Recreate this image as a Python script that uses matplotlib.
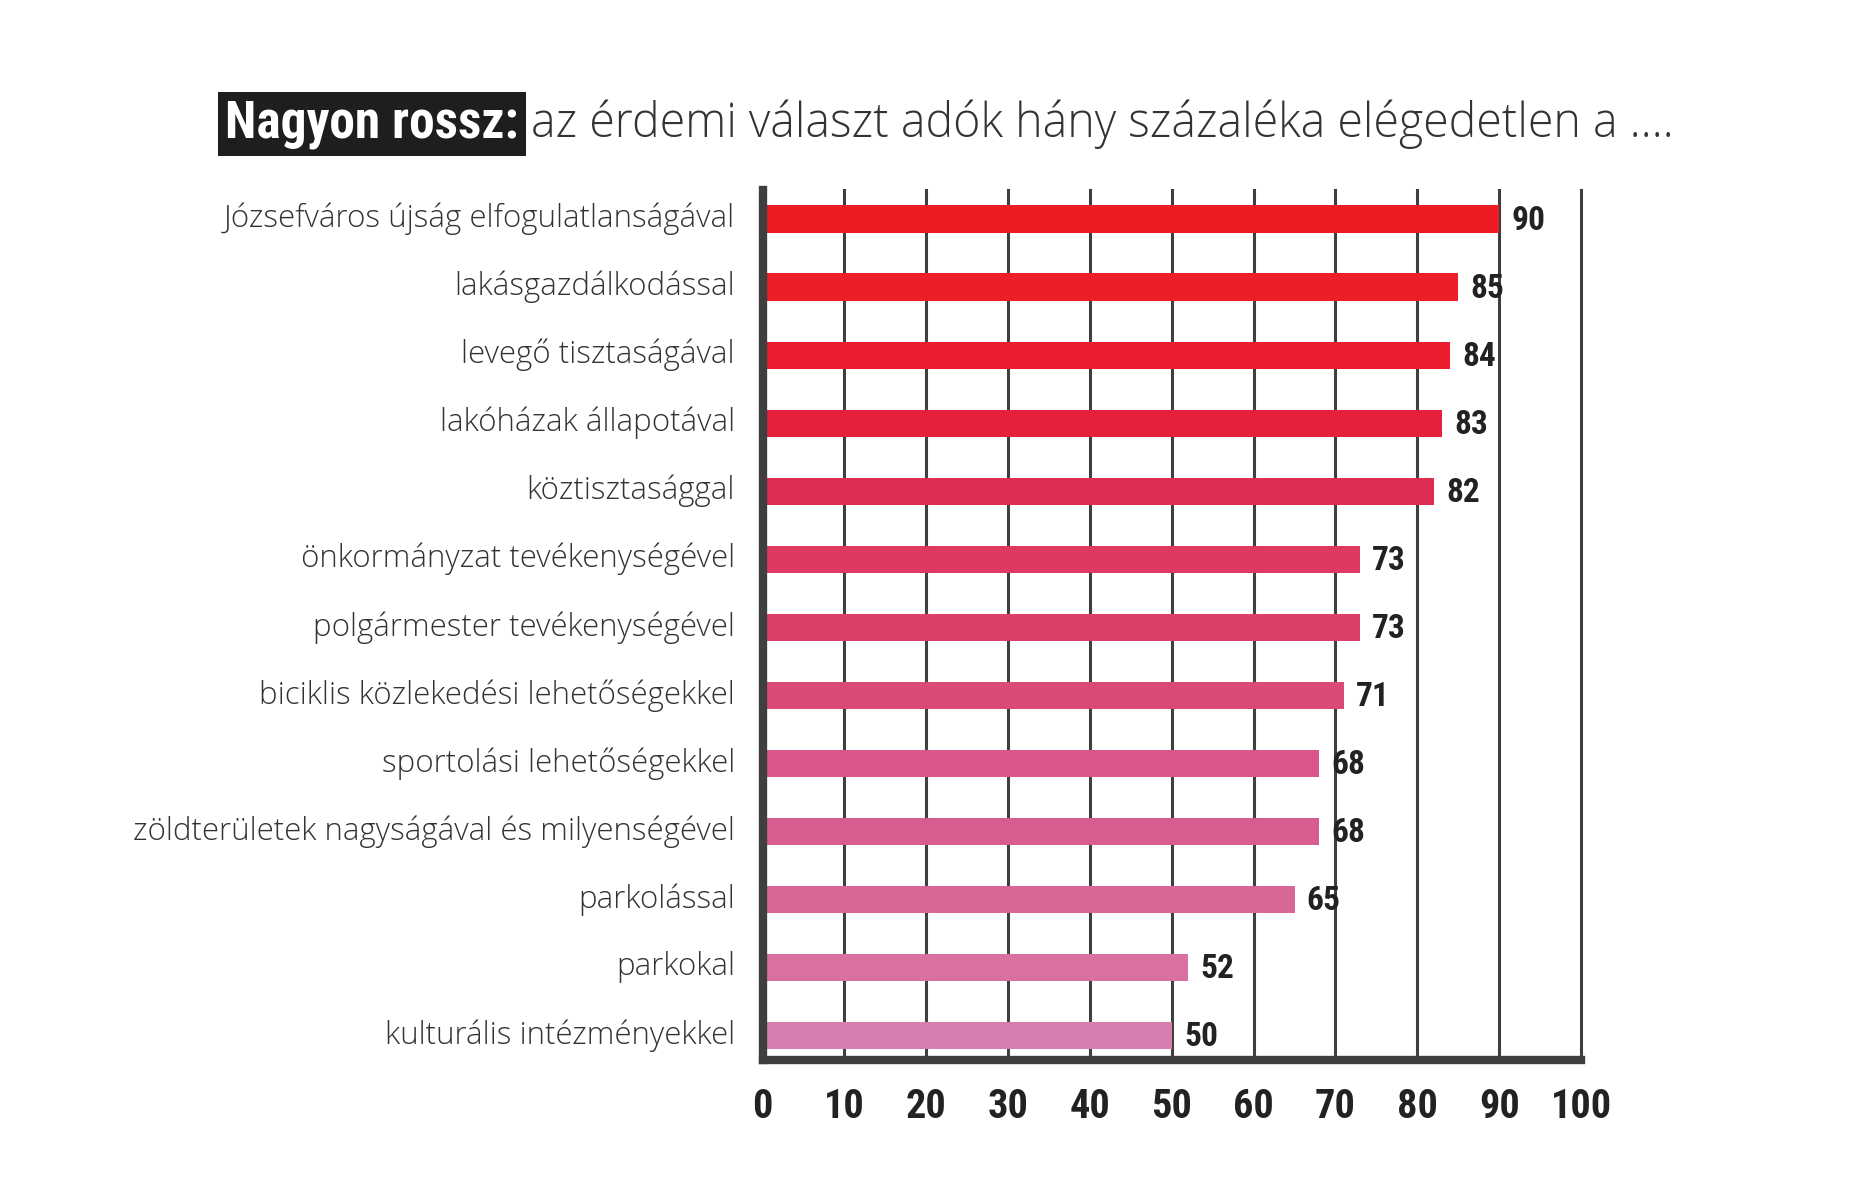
import matplotlib
matplotlib.use("Agg")
from matplotlib import pyplot as plt
from matplotlib import font_manager
from matplotlib import transforms

# data
categories = [
    "Józsefváros újság elfogulatlanságával",
    "lakásgazdálkodással",
    "levegő tisztaságával",
    "lakóházak állapotával",
    "köztisztasággal",
    "önkormányzat tevékenységével",
    "polgármester tevékenységével",
    "biciklis közlekedési lehetőségekkel",
    "sportolási lehetőségekkel",
    "zöldterületek nagyságával és milyenségével",
    "parkolással",
    "parkokal",
    "kulturális intézményekkel",
]
values = [90, 85, 84, 83, 82, 73, 73, 71, 68, 68, 65, 52, 50]
ticks = [0, 10, 20, 30, 40, 50, 60, 70, 80, 90, 100]
title_bold = "Nagyon rossz:"
title_rest = "az érdemi választ adók hány százaléka elégedetlen a ...."

bar_colors = ["#ED1C24", "#EC1E27", "#EA1D2E", "#E4203D", "#DE2D52", "#DC3A60",
              "#DC4068", "#DA4A76", "#D8568A", "#D85C8F", "#D86798", "#D870A2", "#D57DAF"]
grid_color = "#3f3f3f"

fonts = font_manager.fontManager.ttflist
names = {f.name for f in fonts}
# condensed bold face for the numbers and the boxed title part
narrow = dict(family="DejaVu Sans", weight="bold")
for cand in ["Roboto Condensed", "Liberation Sans Narrow", "Open Sans Condensed"]:
    if cand in names:
        narrow = dict(family=cand, weight="bold")
        break
light = "Open Sans" if "Open Sans" in names else "DejaVu Sans"

fig = plt.figure(figsize=(18.6, 11.79), dpi=100)
ax = fig.add_axes([0.410, 0.101, 0.440, 0.738])

y = list(range(len(values)))
ax.barh(y, values, height=0.4, color=bar_colors, zorder=3)

for v in ticks[1:]:
    ax.axvline(v, color=grid_color, lw=2.2, zorder=1, clip_on=False)

ax.set_xlim(0, 100)
ax.set_ylim(12.36, -0.43)

for s in ["top", "right"]:
    ax.spines[s].set_visible(False)
for s in ["left", "bottom"]:
    ax.spines[s].set_linewidth(6)
    ax.spines[s].set_color(grid_color)
    ax.spines[s].set_zorder(5)

ax.set_xticks(ticks)
ax.set_xticklabels([str(t) for t in ticks], fontsize=29, color="#222222", **narrow)
ax.tick_params(axis="x", length=0, pad=20)
ax.set_yticks(y)
ax.set_yticklabels(categories, family=light, weight="light", fontsize=22.5,
                   color="#333333")
ax.tick_params(axis="y", length=0, pad=20)
# labels sit a touch above the bar centres
shift = transforms.ScaledTranslation(0, 4 / 100, fig.dpi_scale_trans)
for lab in ax.get_yticklabels():
    lab.set_transform(lab.get_transform() + shift)

for yi, v in zip(y, values):
    ax.text(v + 1.5, yi + 0.03, str(v), va="center", ha="left", fontsize=24,
            color="#222222", zorder=6, **narrow)

# title: boxed bold part followed by the light part
t1 = fig.text(0.121, 0.895, title_bold, fontsize=37, color="white", va="center",
              ha="left", bbox=dict(facecolor="#1e1e1e", edgecolor="none", pad=5),
              **narrow)
fig.canvas.draw()
bb = t1.get_window_extent()
x_next = (bb.x1 + 12) / fig.bbox.width
fig.text(x_next, 0.895, title_rest, family=light, weight="light", fontsize=33.5,
         color="#333333", va="center", ha="left")

fig.savefig("out.png", dpi=100, facecolor="white")
